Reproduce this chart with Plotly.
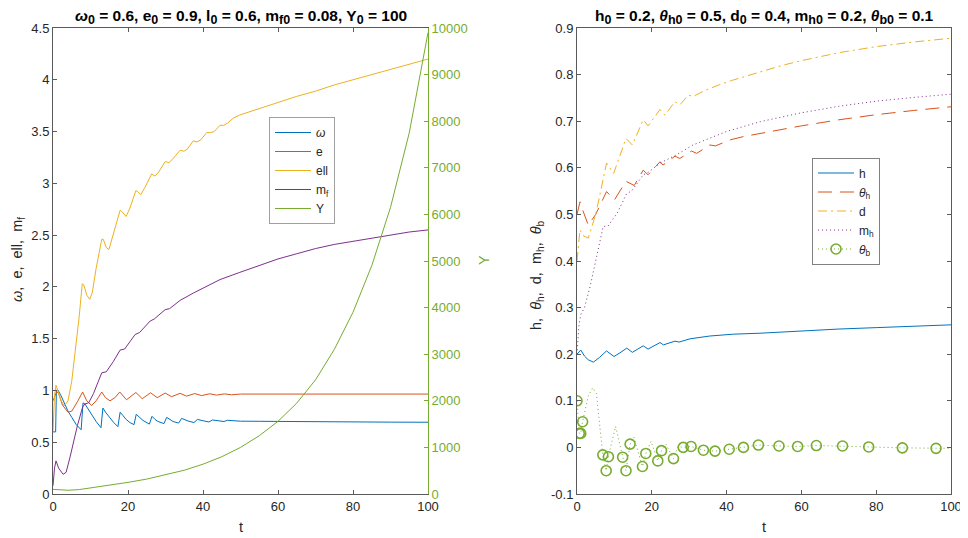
import plotly.graph_objects as go

# ---------------- left panel data ----------------
t_omega = [0, 0.7, 0.9, 1.2, 2.0, 3.0, 4.0, 5.0, 6.2, 7.5, 8.0, 8.5, 10.0, 11.5, 12.8, 13.3, 14.0, 15.0, 16.2, 17.3, 17.9,
           18.6, 19.5, 20.5, 21.6, 22.2, 23.0, 24.0, 25.7, 26.4, 27.2, 28.0, 29.6, 30.3, 31.2, 32.0, 33.5, 34.3, 36.0,
           37.6, 38.5, 40.0, 41.6, 42.5, 44.0, 45.6, 46.5, 48.0, 50.0, 55.0, 60.0, 70.0, 80.0, 90.0, 100.0]
omega = [0.6, 0.6, 1.0, 1.01, 0.96, 0.88, 0.8, 0.74, 0.67, 0.62, 0.88, 0.87, 0.78, 0.7, 0.64, 0.83, 0.79, 0.74, 0.69, 0.65, 0.79,
         0.76, 0.72, 0.69, 0.67, 0.77, 0.74, 0.71, 0.675, 0.75, 0.72, 0.7, 0.68, 0.74, 0.72, 0.70, 0.685, 0.73, 0.705,
         0.69, 0.72, 0.705, 0.695, 0.715, 0.705, 0.70, 0.712, 0.705, 0.703, 0.702, 0.70, 0.698, 0.696, 0.694, 0.693]

t_e = [0, 0.5, 1.0, 1.5, 2.5, 4.0, 5.0, 6.5, 7.9, 9.0, 10.3, 11.5, 13.0, 14.0, 15.2, 16.5, 17.8, 19.6, 22.1, 23.8, 26.0,
       27.8, 29.9, 31.6, 33.9, 35.6, 37.8, 39.6, 41.8, 43.6, 45.7, 47.6, 50.0, 60.0, 80.0, 100.0]
e = [0.9, 0.95, 0.99, 0.97, 0.86, 0.79, 0.80, 0.89, 0.985, 0.9, 0.855, 0.9, 0.985, 0.93, 0.9, 0.93, 0.985, 0.91, 0.98, 0.92, 0.978,
     0.93, 0.975, 0.94, 0.972, 0.945, 0.97, 0.95, 0.968, 0.955, 0.967, 0.958, 0.965, 0.965, 0.965, 0.965]

t_ell = [0, 0.4, 0.8, 1.5, 2.2, 3.0, 4.0, 5.0, 6.0, 7.0, 7.8, 8.2, 9.0, 9.8, 10.5, 11.5, 13.0, 13.4, 14.2, 14.9, 16.0, 17.9,
         18.3, 19.5, 20.5, 22.1, 22.6, 23.4, 24.5, 26.3, 27.2, 28.2, 29.9, 30.9, 31.8, 33.9, 34.9, 35.8, 37.4, 38.4,
         39.4, 41.0, 42.0, 43.0, 44.5, 45.5, 46.5, 48.1, 49.8, 55, 60, 65, 70, 75, 80, 85, 90, 95, 100]
ell = [0.6, 0.95, 1.05, 0.98, 0.9, 0.85, 0.9, 1.09, 1.4, 1.72, 2.03, 2.02, 1.92, 1.88, 1.95, 2.18, 2.46, 2.46, 2.38, 2.36, 2.5, 2.74,
       2.73, 2.68, 2.76, 2.93, 2.92, 2.89, 2.96, 3.09, 3.07, 3.11, 3.21, 3.2, 3.23, 3.32, 3.31, 3.33, 3.41, 3.4,
       3.42, 3.49, 3.49, 3.5, 3.56, 3.56, 3.58, 3.63, 3.66, 3.72, 3.78, 3.84, 3.89, 3.95, 4.0, 4.05, 4.1, 4.15, 4.2]

t_mf = [0, 0.4, 0.8, 1.5, 2.7, 3.5, 4.5, 5.4, 6.5, 7.9, 8.5, 9.5, 10.8, 12.0, 13.0, 14.2, 16.1, 17.9, 19.1, 20.5, 21.9, 23.1,
        25.9, 27.0, 29.9, 31.1, 33.9, 37.4, 41.0, 44.5, 49.8, 55, 60, 65, 70, 75, 80, 85, 90, 95, 100]
m_f = [0.08, 0.25, 0.32, 0.25, 0.19, 0.21, 0.35, 0.5, 0.66, 0.84, 0.87, 0.88, 0.97, 1.08, 1.17, 1.18, 1.28, 1.39, 1.40, 1.47, 1.54, 1.56,
       1.67, 1.69, 1.78, 1.79, 1.87, 1.94, 2.01, 2.07, 2.14, 2.21, 2.27, 2.32, 2.37, 2.41, 2.44, 2.47, 2.5, 2.53, 2.55]

t_Y = [0, 2, 4, 7, 10, 15, 20, 25, 30, 35, 40, 45, 50, 55, 60, 65, 70, 75, 80, 85, 90, 95, 100]
Y = [100, 85, 80, 95, 130, 185, 250, 320, 410, 510, 640, 800, 1000, 1250, 1560, 1950, 2450, 3100, 3900, 4900, 6150, 7750, 9900]

# ---------------- right panel data ----------------
t_h = [0, 1.0, 2.0, 3.0, 4.4, 6.0, 7.9, 9.9, 11.5, 13.3, 14.8, 16.0, 17.7, 19.0, 20.5, 22.2, 23.1, 26.2, 27.3, 30.2, 35.5,
       41.8, 48.9, 60, 70, 80, 90, 100]
h = [0.2, 0.209, 0.196, 0.188, 0.183, 0.193, 0.207, 0.195, 0.203, 0.213, 0.204, 0.21, 0.218, 0.211, 0.217, 0.225, 0.22, 0.228, 0.226, 0.233, 0.239,
     0.243, 0.245, 0.25, 0.254, 0.257, 0.26, 0.263]

t_th = [0, 0.8, 1.5, 3.0, 5.0, 7.9, 10.0, 13.1, 15.3, 17.7, 19.0, 22.2, 23.0, 26.2, 27.5, 30.6, 32.0, 35.5, 37.0, 41.0, 44.5,
        49.0, 55, 60, 70, 80, 90, 100]
theta_h = [0.5, 0.527, 0.51, 0.477, 0.5, 0.549, 0.531, 0.571, 0.562, 0.595, 0.585, 0.613, 0.606, 0.625, 0.62, 0.636, 0.631, 0.649, 0.647, 0.66, 0.667,
           0.674, 0.683, 0.69, 0.703, 0.714, 0.723, 0.731]

t_d = [0, 0.8, 1.5, 3.0, 5.0, 7.9, 9.8, 13.1, 14.8, 17.7, 19.0, 22.2, 23.5, 26.2, 27.5, 29.8, 31.0, 34.5, 38.0, 41.6, 48.7,
       55, 60, 70, 80, 90, 100]
d = [0.4, 0.467, 0.455, 0.449, 0.5, 0.61, 0.588, 0.663, 0.649, 0.703, 0.69, 0.725, 0.713, 0.742, 0.735, 0.756, 0.753, 0.767, 0.778, 0.788, 0.805,
     0.82, 0.83, 0.847, 0.86, 0.87, 0.878]

t_mh = [0, 0.5, 1.0, 2.0, 3.5, 5.0, 7.0, 8.3, 10.7, 13.3, 14.6, 17.7, 19.0, 22.2, 26.6, 31.0, 35.5, 40.0, 49.0, 55, 60, 70, 80, 90, 100]
m_h = [0.2, 0.26, 0.285, 0.3, 0.345, 0.4, 0.474, 0.475, 0.502, 0.545, 0.55, 0.585, 0.59, 0.61, 0.628, 0.649, 0.663, 0.678, 0.699, 0.71, 0.718,
       0.732, 0.743, 0.751, 0.758]

t_tb = [0, 0.6, 1.0, 1.5, 3.0, 4.2, 5.2, 6.9, 7.8, 8.4, 10.3, 12.2, 13.1, 14.2, 15.2, 17.5, 18.4, 19.8, 21.6, 22.6, 23.8, 25.8,
        27.0, 28.4, 30.5, 33.8, 36.9, 40.7, 44.5, 48.5, 54, 59, 64, 71, 78, 87, 96, 100]
theta_b = [0.1, 0.03, 0.03, 0.055, 0.11, 0.128, 0.115, -0.016, -0.05, -0.02, 0.045, -0.021, -0.05, 0.007, 0.022, -0.041, -0.013, 0.013, -0.029, -0.007, 0.006, -0.024,
           0.002, 0.0, 0.002, -0.006, -0.008, -0.004, 0.0, 0.005, 0.003, 0.002, 0.004, 0.003, 0.001, -0.001, -0.002, -0.002]

t_tb_mk = [0, 0.6, 1.0, 1.5, 6.9, 7.8, 8.4, 12.2, 13.1, 14.2, 17.5, 18.4, 21.6, 22.6, 25.8, 28.4, 30.5, 33.8, 36.9, 40.7,
           44.5, 48.5, 54, 59, 64, 71, 78, 87, 96]
theta_b_mk = [0.1, 0.03, 0.03, 0.055, -0.016, -0.05, -0.02, -0.021, -0.05, 0.007, -0.041, -0.013, -0.029, -0.007, -0.024, 0.0, 0.002, -0.006, -0.008, -0.004,
              0.0, 0.005, 0.003, 0.002, 0.004, 0.003, 0.001, -0.001, -0.002]

# ticks
x_ticks = [0, 20, 40, 60, 80, 100]
y1_ticks = [0, 0.5, 1, 1.5, 2, 2.5, 3, 3.5, 4, 4.5]
y1_labels = ["0", "0.5", "1", "1.5", "2", "2.5", "3", "3.5", "4", "4.5"]
y2_ticks = [0, 1000, 2000, 3000, 4000, 5000, 6000, 7000, 8000, 9000, 10000]
y2_labels = [str(v) for v in y2_ticks]
y3_ticks = [-0.1, 0, 0.1, 0.2, 0.3, 0.4, 0.5, 0.6, 0.7, 0.8, 0.9]
y3_labels = ["-0.1", "0", "0.1", "0.2", "0.3", "0.4", "0.5", "0.6", "0.7", "0.8", "0.9"]

BLUE, RED, YEL, PUR, GRN = "#0072BD", "#D95319", "#EDB120", "#7E2F8E", "#77AC30"
TXT = "#262626"
AX = "#5a5a5a"
FONT = "Liberation Sans, Arial, sans-serif"
# the page body has an 8 px margin, so the figure is 960x530 and all positions below are screen - 8
W, H = 960, 530
OFF = 8


def px(xs):
    return (xs - OFF) / W


def py(ys):
    return 1 - (ys - OFF) / H


fig = go.Figure()
lw = 1
fig.add_trace(go.Scatter(x=t_omega, y=omega, mode="lines", name="<i>ω</i>", line=dict(color=BLUE, width=lw), xaxis="x", yaxis="y", legend="legend"))
fig.add_trace(go.Scatter(x=t_e, y=e, mode="lines", name="e", line=dict(color=RED, width=lw), xaxis="x", yaxis="y", legend="legend"))
fig.add_trace(go.Scatter(x=t_ell, y=ell, mode="lines", name="ell", line=dict(color=YEL, width=lw), xaxis="x", yaxis="y", legend="legend"))
fig.add_trace(go.Scatter(x=t_mf, y=m_f, mode="lines", name="m<sub>f</sub>", line=dict(color=PUR, width=lw), xaxis="x", yaxis="y", legend="legend"))
fig.add_trace(go.Scatter(x=t_Y, y=Y, mode="lines", name="Y", line=dict(color=GRN, width=lw), xaxis="x", yaxis="y2", legend="legend"))

fig.add_trace(go.Scatter(x=t_h, y=h, mode="lines", name="h", line=dict(color=BLUE, width=lw), xaxis="x2", yaxis="y3", legend="legend2"))
fig.add_trace(go.Scatter(x=t_th, y=theta_h, mode="lines", name="<i>θ</i><sub>h</sub>", line=dict(color=RED, width=lw, dash="14px,8px"), xaxis="x2", yaxis="y3", legend="legend2"))
fig.add_trace(go.Scatter(x=t_d, y=d, mode="lines", name="d", line=dict(color=YEL, width=lw, dash="9px,4px,2px,4px"), xaxis="x2", yaxis="y3", legend="legend2"))
fig.add_trace(go.Scatter(x=t_mh, y=m_h, mode="lines", name="m<sub>h</sub>", line=dict(color=PUR, width=lw, dash="1px,3px"), xaxis="x2", yaxis="y3", legend="legend2"))
fig.add_trace(go.Scatter(x=t_tb, y=theta_b, mode="lines", showlegend=False, line=dict(color=GRN, width=lw, dash="1px,3px"),
                         xaxis="x2", yaxis="y3", legend="legend2"))
fig.add_trace(go.Scatter(x=t_tb_mk, y=theta_b_mk, mode="markers", showlegend=False,
                         marker=dict(symbol="circle-open", size=10, color=GRN, line=dict(width=1.6, color=GRN)),
                         xaxis="x2", yaxis="y3", legend="legend2"))
fig.add_trace(go.Scatter(x=[None], y=[None], mode="lines+markers", name="<i>θ</i><sub>b</sub>",
                         line=dict(color=GRN, width=lw, dash="1px,3px"),
                         marker=dict(symbol="circle-open", size=10, color=GRN, line=dict(width=1.6, color=GRN)),
                         xaxis="x2", yaxis="y3", legend="legend2"))

ytop = py(28)
ybot = py(494)
common = dict(showgrid=False, zeroline=False, ticks="inside", ticklen=4, tickwidth=1, showline=True, automargin=False,
              linewidth=1, linecolor=AX, tickcolor=AX, tickfont=dict(family=FONT, size=13, color=TXT))

fig.update_layout(
    width=W, height=H, margin=dict(l=0, r=0, t=0, b=0, autoexpand=False),
    paper_bgcolor="white", plot_bgcolor="white",
    font=dict(family=FONT, color=TXT),
    xaxis=dict(domain=[px(53), px(428)], range=[0, 100], anchor="y", tickvals=x_ticks, mirror="ticks", **common),
    yaxis=dict(domain=[ybot, ytop], range=[0, 4.5], anchor="x", tickvals=y1_ticks, ticktext=y1_labels, **common),
    yaxis2=dict(overlaying="y", side="right", anchor="x", range=[0, 10000], tickvals=y2_ticks, ticktext=y2_labels,
                showgrid=False, zeroline=False, ticks="inside", ticklen=4, showline=True, linewidth=1, automargin=False,
                linecolor=GRN, tickcolor=GRN, tickfont=dict(family=FONT, size=13, color=GRN)),
    xaxis2=dict(domain=[px(577), px(951)], range=[0, 100], anchor="y3", tickvals=x_ticks, mirror="ticks", **common),
    yaxis3=dict(domain=[ybot, ytop], range=[-0.1, 0.9], anchor="x2", tickvals=y3_ticks, ticktext=y3_labels, mirror="ticks", **common),
    legend=dict(x=px(269), y=py(170.5), xanchor="left", yanchor="middle", bgcolor="white",
                bordercolor="#a0a0a0", borderwidth=1, font=dict(family=FONT, size=12, color=TXT), itemwidth=36,
                tracegroupgap=0, entrywidth=22, entrywidthmode="pixels"),
    legend2=dict(x=px(812), y=py(211), xanchor="left", yanchor="middle", bgcolor="white",
                 bordercolor="#808080", borderwidth=1, font=dict(family=FONT, size=12, color=TXT), itemwidth=36,
                 tracegroupgap=0),
    showlegend=True,
)

SUB = '<sub><span style="font-size:12.5px">%s</span></sub>'
ann = []
tfont = dict(family=FONT, size=15.5, color="black")
left_title = ("<b><i>ω</i>" + SUB % "0" + " = 0.6, e" + SUB % "0" + " = 0.9, l" + SUB % "0" + " = 0.6, m" + SUB % "f0"
              + " = 0.08, Y" + SUB % "0" + " = 100</b>")
right_title = ("<b>h" + SUB % "0" + " = 0.2, <i>θ</i>" + SUB % "h0" + " = 0.5, d" + SUB % "0" + " = 0.4, m" + SUB % "h0"
               + " = 0.2, <i>θ</i>" + SUB % "b0" + " = 0.1</b>")
ann.append(dict(text=left_title, x=px(240.5), y=py(17), xref="paper", yref="paper", showarrow=False,
                xanchor="center", yanchor="middle", font=tfont))
ann.append(dict(text=right_title, x=px(764), y=py(17), xref="paper", yref="paper", showarrow=False,
                xanchor="center", yanchor="middle", font=tfont))
lfont = dict(family=FONT, size=14.5, color=TXT)
ann.append(dict(text="t", x=px(240.5), y=py(527), xref="paper", yref="paper", showarrow=False, xanchor="center", yanchor="middle", font=lfont))
ann.append(dict(text="t", x=px(764), y=py(527), xref="paper", yref="paper", showarrow=False, xanchor="center", yanchor="middle", font=lfont))
ann.append(dict(text="<i>ω</i>,  e,  ell,  m<sub>f</sub>", x=px(18), y=py(260), xref="paper", yref="paper", showarrow=False,
                xanchor="center", yanchor="middle", textangle=-90, font=lfont))
ann.append(dict(text="Y", x=px(484), y=py(260), xref="paper", yref="paper", showarrow=False,
                xanchor="center", yanchor="middle", textangle=-90, font=dict(family=FONT, size=14.5, color=GRN)))
ann.append(dict(text="h,  <i>θ</i><sub>h</sub>,  d,  m<sub>h</sub>,  <i>θ</i><sub>b</sub>", x=px(537), y=py(275), xref="paper", yref="paper",
                showarrow=False, xanchor="center", yanchor="middle", textangle=-90, font=lfont))
fig.update_layout(annotations=ann)

fig.write_html("out.html")
